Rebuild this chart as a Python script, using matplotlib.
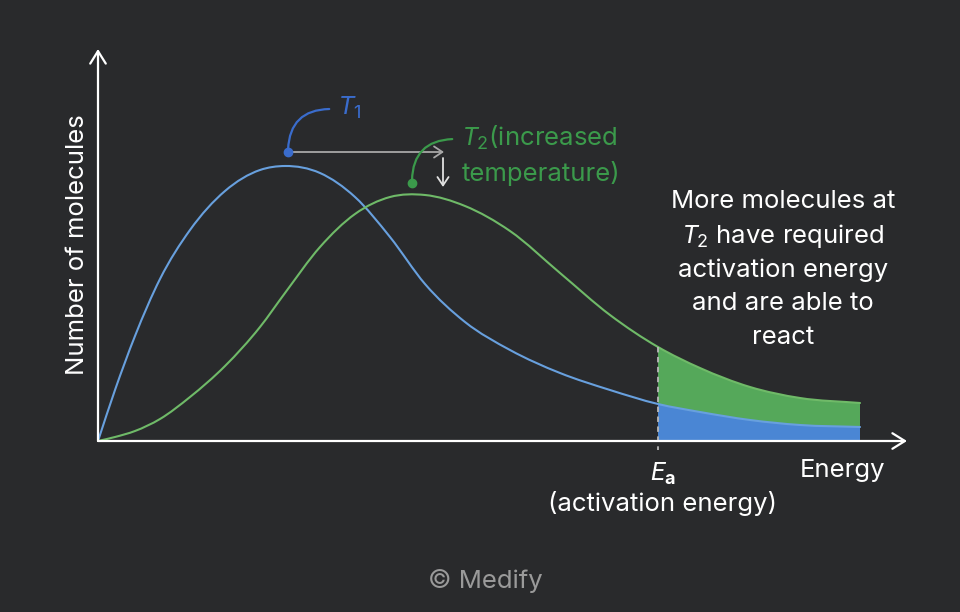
import numpy as np
import matplotlib
matplotlib.use("Agg")
import matplotlib.pyplot as plt
from matplotlib.path import Path
from matplotlib.patches import PathPatch, FancyArrowPatch

plt.rcParams['font.family'] = ['Inter', 'DejaVu Sans']
plt.rcParams['mathtext.fontset'] = 'custom'
plt.rcParams['mathtext.rm'] = 'Inter'
plt.rcParams['mathtext.it'] = 'Roboto:italic'
plt.rcParams['mathtext.bf'] = 'Inter:bold'

# energy / number of molecules in arbitrary units
energy = [0, 17, 37, 62, 92, 127, 162, 187, 222, 257, 292, 327, 367, 412,
          462, 512, 560, 602, 652, 702, 762]
t1_count = [0, 51, 105, 162, 211, 250, 271, 275, 268, 244, 204, 157, 119, 91,
            68, 51, 37, 29, 21, 16, 14]
t2_count = [0, 4, 10, 22, 44, 75, 114, 148, 194, 227, 244, 246, 235, 210,
            168, 126, 94, 73, 54, 43, 38]
ea_index = 16   # activation energy = energy[16]

BG = '#292a2c'
BLUE_LINE = '#68a0de'
GREEN_LINE = '#6fba68'
BLUE_FILL = '#4a86d4'
GREEN_FILL = '#55a85a'
BLUE_DARK = '#3a6ccc'
GREEN_DARK = '#3b9a4b'
FS = 18.5


def smooth(xs, ys, i0, i1):
    # piecewise cubic hermite through the read points, as bezier segments
    x = np.asarray(xs, float)
    y = np.asarray(ys, float)
    h = np.diff(x)
    d = np.diff(y) / h
    m = np.empty_like(x)
    m[0], m[-1] = d[0], d[-1]
    m[1:-1] = (d[:-1] * h[1:] + d[1:] * h[:-1]) / (h[:-1] + h[1:])
    verts = [(x[i0], y[i0])]
    codes = [Path.MOVETO]
    for i in range(i0, i1):
        k = h[i] / 3
        verts += [(x[i] + k, y[i] + m[i] * k),
                  (x[i + 1] - k, y[i + 1] - m[i + 1] * k),
                  (x[i + 1], y[i + 1])]
        codes += [Path.CURVE4] * 3
    return verts, codes


def P(x, y):
    # pixel position -> figure fraction
    return (x / 960, 1 - y / 612)


fig = plt.figure(figsize=(9.6, 6.12), dpi=100)
fig.patch.set_facecolor(BG)
ax = fig.add_axes([0, 0, 1, 1])
ax.set_facecolor(BG)
ax.set_xlim(-98, 862)
ax.set_ylim(-171, 441)
ax.axis('off')

last = len(energy) - 1

# shaded areas past Ea
vg, cg = smooth(energy, t2_count, ea_index, last)
vb, cb = smooth(energy, t1_count, ea_index, last)
green_verts = vg + vb[::-1] + [vg[0]]
green_codes = cg + [Path.LINETO] + [Path.CURVE4] * (len(vb) - 1) + [Path.CLOSEPOLY]
ax.add_patch(PathPatch(Path(green_verts, green_codes), facecolor=GREEN_FILL,
                       edgecolor='none', zorder=2))
blue_verts = vb + [(energy[last], 0), (energy[ea_index], 0), vb[0]]
blue_codes = cb + [Path.LINETO, Path.LINETO, Path.CLOSEPOLY]
ax.add_patch(PathPatch(Path(blue_verts, blue_codes), facecolor=BLUE_FILL,
                       edgecolor='none', zorder=2))

# the two curves
for counts, col in [(t1_count, BLUE_LINE), (t2_count, GREEN_LINE)]:
    v, c = smooth(energy, counts, 0, last)
    ax.add_patch(PathPatch(Path(v, c), facecolor='none', edgecolor=col,
                           lw=1.5, zorder=3, capstyle='round'))

# Ea dashed marker
ax.plot([energy[ea_index], energy[ea_index]], [t2_count[ea_index], -9],
        color='#b8b8b8', lw=1.3, ls=(0, (3, 2.5)), zorder=4)

# axes arrows
arrow = dict(arrowstyle='->,head_length=0.45,head_width=0.28', color='white',
             lw=1.6, shrinkA=0, shrinkB=0, mutation_scale=20)
ax.annotate('', xy=(809, 0), xytext=(0, 0), arrowprops=arrow, zorder=5)
ax.annotate('', xy=(0, 392), xytext=(0, 0), arrowprops=arrow, zorder=5)

# axis labels
ax.text(*P(78, 245), 'Number of molecules', transform=ax.transAxes, color='white',
        fontsize=FS, rotation=90, ha='center', va='center')
ax.text(*P(843, 470), 'Energy', transform=ax.transAxes, color='white',
        fontsize=FS, ha='center', va='center')
ax.text(*P(663, 474), r'$E_\mathbf{a}$', transform=ax.transAxes, color='white',
        fontsize=FS, ha='center', va='center')
ax.text(*P(663, 504), '(activation energy)', transform=ax.transAxes, color='white',
        fontsize=FS, ha='center', va='center')

# side note
note = ['More molecules at', r'$T_2$ have required', 'activation energy',
        'and are able to', 'react']
for k, line in enumerate(note):
    ax.text(*P(783, 202 + 34 * k), line, transform=ax.transAxes, color='white',
            fontsize=FS, ha='center', va='center')

# T1 / T2 call-outs
ax.plot(*P(288, 152), 'o', color=BLUE_DARK, ms=6, transform=ax.transAxes, zorder=6)
ax.add_patch(FancyArrowPatch(P(288, 152), P(332, 109), transform=ax.transAxes,
                             connectionstyle='arc3,rad=-0.5', arrowstyle='-',
                             color=BLUE_DARK, lw=1.6, zorder=6))
ax.text(*P(338, 108), r'$T_1$', transform=ax.transAxes, color=BLUE_DARK,
        fontsize=FS + 0.5, ha='left', va='center')

ax.plot(*P(412, 183), 'o', color=GREEN_DARK, ms=6, transform=ax.transAxes, zorder=6)
ax.add_patch(FancyArrowPatch(P(412, 183), P(455, 139), transform=ax.transAxes,
                             connectionstyle='arc3,rad=-0.5', arrowstyle='-',
                             color=GREEN_DARK, lw=1.6, zorder=6))
ax.text(*P(462, 138), r'$T_2$(increased', transform=ax.transAxes, color=GREEN_DARK,
        fontsize=FS, ha='left', va='center')
ax.text(*P(462, 173), 'temperature)', transform=ax.transAxes, color=GREEN_DARK,
        fontsize=FS, ha='left', va='center')

small = dict(arrowstyle='->,head_length=0.3,head_width=0.2', lw=1.3,
             shrinkA=0, shrinkB=0, mutation_scale=20)
ax.annotate('', xy=P(444, 152), xytext=P(288, 152), xycoords='axes fraction',
            arrowprops=dict(color='#a8a8a8', **small), zorder=5)
ax.annotate('', xy=P(443, 187), xytext=P(443, 158), xycoords='axes fraction',
            arrowprops=dict(color='#e0e0e0', **small), zorder=5)

ax.text(*P(485, 581), '© Medify', transform=ax.transAxes, color='#9a9a9a',
        fontsize=FS, ha='center', va='center')

fig.savefig('out.png', dpi=100, facecolor=BG)
